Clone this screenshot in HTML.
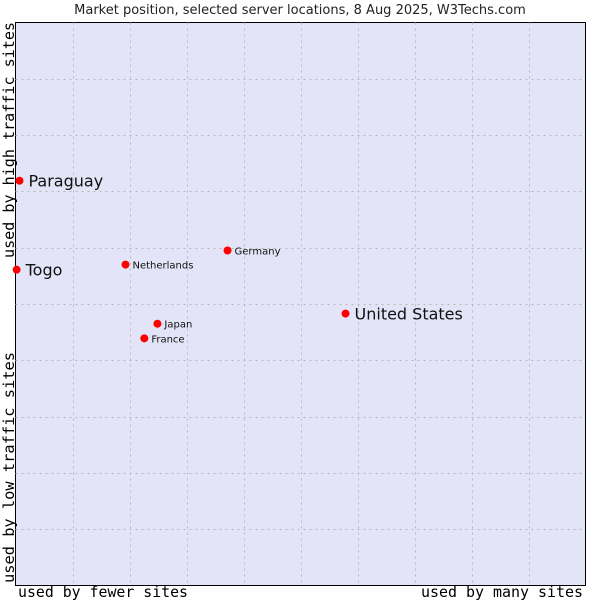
<!DOCTYPE html>
<html><head><meta charset="utf-8"><style>
body{margin:0;background:#fff;width:600px;height:600px;overflow:hidden}
svg{display:block}
</style></head><body>
<svg id="chart" width="600" height="600" xmlns="http://www.w3.org/2000/svg">
<text x="300" y="14" text-anchor="middle" font-family="DejaVu Sans, sans-serif" font-size="13" fill="#222">Market position, selected server locations, 8 Aug 2025, W3Techs.com</text>
<rect x="15.5" y="22.5" width="570" height="563" fill="#e4e4f8" stroke="#000"/>
<g id="grid"></g>
<g id="points"></g>
<text x="18" y="597" font-family="DejaVu Sans Mono, monospace" font-size="15" textLength="170" lengthAdjust="spacingAndGlyphs" fill="#000">used by fewer sites</text>
<text x="421" y="597" font-family="DejaVu Sans Mono, monospace" font-size="15" textLength="162" lengthAdjust="spacingAndGlyphs" fill="#000">used by many sites</text>
<text transform="translate(14,583) rotate(-90)" font-family="DejaVu Sans Mono, monospace" font-size="15" textLength="231" lengthAdjust="spacingAndGlyphs" fill="#000">used by low traffic sites</text>
<text transform="translate(14,258) rotate(-90)" font-family="DejaVu Sans Mono, monospace" font-size="15" textLength="236" lengthAdjust="spacingAndGlyphs" fill="#000">used by high traffic sites</text>
</svg>
<script>
const names = ["Paraguay","Togo","Netherlands","Germany","United States","Japan","France"];
const xValues = [0.7,0.2,19.3,37.2,57.9,24.9,22.6];
const yValues = [71.9,56.1,57.0,59.5,48.3,46.5,43.9];
const bigLabel = [true,true,false,false,true,false,false];
const L=15.5,T=22.5,W=570,H=563;
const sx=v=>L+v/100*W, sy=v=>T+H-v/100*H;
const NS="http://www.w3.org/2000/svg";
const grid=document.getElementById('grid');
for(let i=1;i<10;i++){
  const x=Math.round(L+W*i/10)+0.5;
  const l=document.createElementNS(NS,'line');
  l.setAttribute('x1',x);l.setAttribute('x2',x);l.setAttribute('y1',T);l.setAttribute('y2',T+H);
  l.setAttribute('stroke','#b8b8b8');l.setAttribute('stroke-dasharray','2,4');
  
  
  grid.appendChild(l);
  const y=Math.round(T+H*i/10)+0.5;
  const h=document.createElementNS(NS,'line');
  h.setAttribute('x1',L);h.setAttribute('x2',L+W);h.setAttribute('y1',y);h.setAttribute('y2',y);
  h.setAttribute('stroke','#b8b8b8');h.setAttribute('stroke-dasharray','2,4');
  
  
  grid.appendChild(h);
}
const pts=document.getElementById('points');
names.forEach((n,i)=>{
  const x=sx(xValues[i]),y=sy(yValues[i]);
  const c=document.createElementNS(NS,'circle');
  c.setAttribute('cx',x);c.setAttribute('cy',y);c.setAttribute('r',4);c.setAttribute('fill','#f00');
  
  
  pts.appendChild(c);
  const t=document.createElementNS(NS,'text');
  const big=bigLabel[i];
  t.setAttribute('x',x+(big?9:7));t.setAttribute('y',y+(big?6:4));
  t.setAttribute('font-family','DejaVu Sans, sans-serif');
  t.setAttribute('font-size',big?16:10);
  t.setAttribute('fill','#111');
  t.textContent=n;
  
  
  pts.appendChild(t);
});
</script>
</body></html>
